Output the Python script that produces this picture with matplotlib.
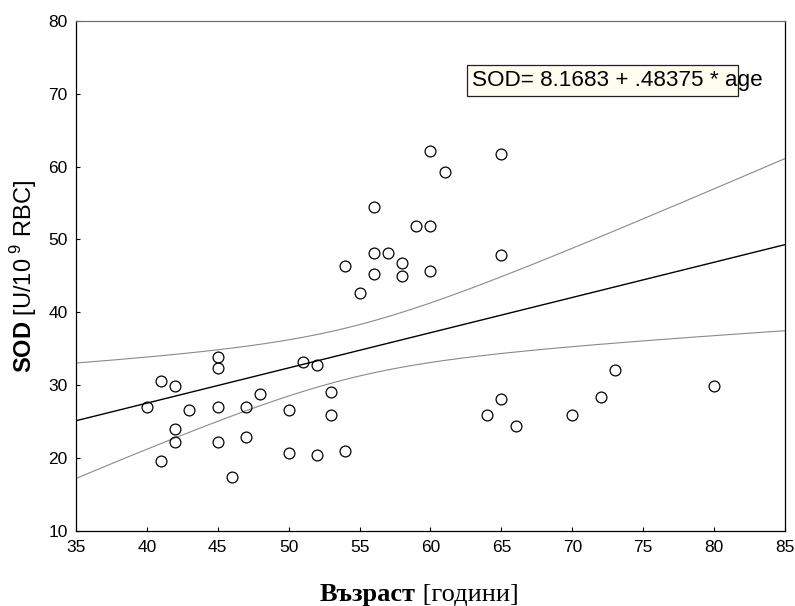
import numpy as np
import matplotlib
matplotlib.use("Agg")
import matplotlib.pyplot as plt
from matplotlib.patches import Rectangle

# age (years) and SOD activity per patient
age = [40, 41, 41, 42, 42, 42, 43, 45, 45, 45, 45, 46, 47, 47, 48,
       50, 50, 51, 52, 52, 53, 53, 54, 55, 56, 56, 57, 56, 54,
       60, 65, 61, 59, 60, 65, 60, 58, 58,
       64, 65, 66, 70, 72, 73, 80]
sod = [27.0, 30.6, 19.6, 29.9, 24.0, 22.2, 26.6, 33.9, 32.4, 27.0, 22.2, 17.4, 27.0, 22.9, 28.8,
       26.6, 20.7, 33.2, 32.8, 20.4, 29.1, 25.9, 21.0, 42.7, 54.4, 48.2, 48.2, 45.3, 46.4,
       62.1, 61.8, 59.2, 51.9, 51.9, 47.9, 45.7, 46.8, 45.0,
       25.9, 28.1, 24.4, 25.9, 28.4, 32.1, 29.9]

intercept = 8.1683
slope = 0.48375
x_ticks = [35, 40, 45, 50, 55, 60, 65, 70, 75, 80, 85]
y_ticks = [10, 20, 30, 40, 50, 60, 70, 80]

plt.rcParams['font.family'] = ['Liberation Sans', 'DejaVu Sans']
plt.rcParams['mathtext.fontset'] = 'custom'
plt.rcParams['mathtext.rm'] = 'Liberation Sans'
plt.rcParams['mathtext.bf'] = 'Liberation Sans:bold'

fig = plt.figure(figsize=(7.95, 6.06), dpi=100)
ax = fig.add_axes([0.0956, 0.1243, 0.8918, 0.841])

x = np.asarray(age, dtype=float)
y = np.asarray(sod, dtype=float)
n = len(x)

# regression line with 95% confidence band for the mean
xs = np.linspace(35, 85, 300)
fit = intercept + slope * xs
resid = y - (intercept + slope * x)
s = np.sqrt(np.sum(resid ** 2) / (n - 2))
sxx = np.sum((x - x.mean()) ** 2)
t_crit = 2.0167  # t(0.975, df=43)
half = t_crit * s * np.sqrt(1.0 / n + (xs - x.mean()) ** 2 / sxx)

ax.plot(xs, fit + half, color='#8a8a8a', lw=0.8)
ax.plot(xs, fit - half, color='#8a8a8a', lw=0.8)
ax.plot(xs, fit, color='black', lw=1.0)

ax.plot(x, y, linestyle='none', marker='o', ms=7.8, mfc='none',
        mec='black', mew=0.9)

ax.set_xlim(35, 85)
ax.set_ylim(10, 80)
ax.set_xticks(x_ticks)
ax.set_yticks(y_ticks)
ax.tick_params(direction='in', length=3, width=0.8, labelsize=12.5,
               colors='black', pad=6)
ax.tick_params(axis='x', pad=7)

for side in ['left', 'bottom', 'right']:
    ax.spines[side].set_color('black')
    ax.spines[side].set_linewidth(0.9)
ax.spines['top'].set_color('#707070')
ax.spines['top'].set_linewidth(0.9)

# equation box (the label runs past the box edge)
ax.add_patch(Rectangle((0.5515, 0.853), 0.382, 0.061, transform=ax.transAxes,
                       facecolor='#fffcf0', edgecolor='#202020', lw=0.9, zorder=3))
ax.text(0.558, 0.8834, 'SOD= 8.1683 + .48375 * age', transform=ax.transAxes,
        fontsize=16.2, va='center', ha='left', zorder=4)

fig.text(0.03, 0.5446, r'$\mathbf{SOD}$ [U/10$^{\ 9}$ RBC]', rotation=90,
         fontsize=17, ha='center', va='center')

# x-axis label: bold word followed by regular units, serif
xl1 = fig.text(0.4025, 0.009, 'Възраст', fontsize=19, fontweight='bold',
               family='Liberation Serif', ha='left', va='baseline')
ax.annotate(' [години]', xy=(1, 0), xycoords=xl1, xytext=(0, 0),
            textcoords='offset points', fontsize=19, family='Liberation Serif',
            ha='left', va='bottom', annotation_clip=False)

fig.savefig('out.png', dpi=100, facecolor='white')
